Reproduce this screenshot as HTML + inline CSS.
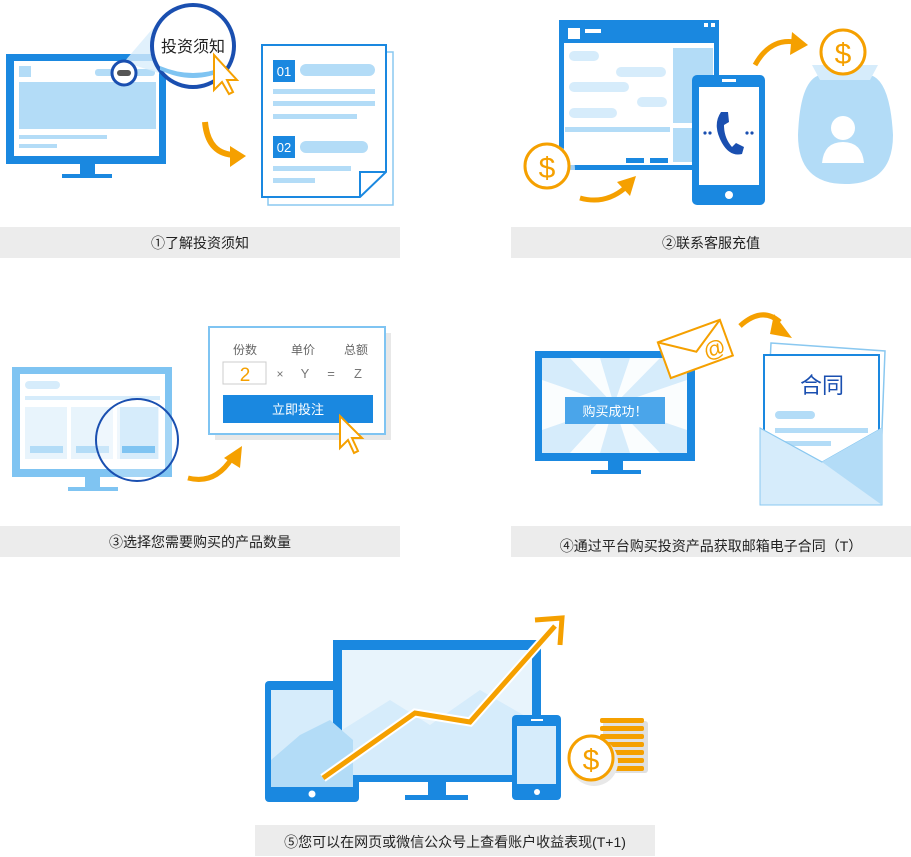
<!DOCTYPE html>
<html><head><meta charset="utf-8"><style>
html,body{margin:0;padding:0;background:#fff;width:911px;height:857px;overflow:hidden}
svg{display:block}
text{font-family:"Liberation Sans","Noto Sans CJK SC",sans-serif}
</style></head><body>
<svg width="911" height="857" viewBox="0 0 911 857" xmlns="http://www.w3.org/2000/svg">
<defs>
<marker id="ah" markerWidth="6" markerHeight="6" refX="3" refY="3" orient="auto"><path d="M0,0L6,3L0,6z" fill="#f5a000"/></marker>
</defs>
<!-- captions -->
<rect x="0" y="227" width="400" height="31" fill="#ececec"/>
<text x="200" y="248" font-size="14" text-anchor="middle" fill="#222">①了解投资须知</text>
<rect x="511" y="227" width="400" height="31" fill="#ececec"/>
<text x="711" y="248" font-size="14" text-anchor="middle" fill="#222">②联系客服充值</text>
<rect x="0" y="526" width="400" height="31" fill="#ececec"/>
<text x="200" y="547" font-size="14" text-anchor="middle" fill="#222">③选择您需要购买的产品数量</text>
<rect x="511" y="526" width="400" height="31" fill="#ececec"/>
<text x="711" y="551" font-size="14" text-anchor="middle" fill="#222">④通过平台购买投资产品获取邮箱电子合同（T）</text>
<rect x="255" y="825" width="400" height="31" fill="#ececec"/>
<text x="455" y="847" font-size="14" text-anchor="middle" fill="#222">⑤您可以在网页或微信公众号上查看账户收益表现(T+1)</text>

<!-- PANEL 1 -->
<rect x="6" y="54" width="160" height="110" fill="#1a88e0"/>
<rect x="14" y="61" width="145" height="95" fill="#fff"/>
<rect x="19" y="66" width="12" height="11" fill="#b3dcf7"/>
<rect x="95" y="69" width="60" height="7" rx="3" fill="#b3dcf7"/>
<rect x="19" y="82" width="137" height="47" fill="#b3dcf7"/>
<rect x="19" y="135" width="88" height="4" fill="#b3dcf7"/>
<rect x="19" y="144" width="38" height="4" fill="#b3dcf7"/>
<rect x="80" y="164" width="15" height="11" fill="#1a88e0"/>
<rect x="62" y="174" width="50" height="4" fill="#1a88e0"/>
<path d="M124,62 L160,20 L200,86 Z" fill="#d9eefb" opacity="0.8"/>
<circle cx="124" cy="73" r="12" fill="#fff" stroke="#1a4fb0" stroke-width="3"/>
<rect x="117" y="70" width="14" height="6" rx="3" fill="#555"/>
<circle cx="193" cy="46" r="41" fill="#fff" stroke="#1a4fb0" stroke-width="4"/>
<path d="M160,70 Q193,86 226,70 L226,66 Q193,80 160,66Z" fill="#7fc4f2"/>
<text x="193" y="52" font-size="16" text-anchor="middle" fill="#222">投资须知</text>
<path d="M214,55 L214,90 L222,82 L229,94 L233,92 L227,80 L237,80 Z" fill="#fff" stroke="#f5a000" stroke-width="2"/>
<path d="M205,122 Q208,155 236,155" fill="none" stroke="#f5a000" stroke-width="6"/>
<path d="M230,146 L246,156 L230,167 Z" fill="#f5a000"/>
<rect x="268" y="52" width="125" height="153" fill="#fff" stroke="#8ac8f0" stroke-width="1.5"/>
<path d="M262,45 L386,45 L386,172 L360,197 L262,197 Z" fill="#fff" stroke="#1a88e0" stroke-width="2"/>
<path d="M386,172 L360,172 L360,197" fill="none" stroke="#1a88e0" stroke-width="2"/>
<rect x="273" y="60" width="22" height="22" fill="#1a88e0"/><text x="284" y="76" font-size="13" fill="#fff" text-anchor="middle">01</text>
<rect x="300" y="64" width="75" height="12" rx="6" fill="#b3dcf7"/>
<rect x="273" y="89" width="102" height="5" fill="#b3dcf7"/>
<rect x="273" y="101" width="102" height="5" fill="#b3dcf7"/>
<rect x="273" y="114" width="84" height="5" fill="#b3dcf7"/>
<rect x="273" y="136" width="22" height="22" fill="#1a88e0"/><text x="284" y="152" font-size="13" fill="#fff" text-anchor="middle">02</text>
<rect x="300" y="141" width="68" height="12" rx="6" fill="#b3dcf7"/>
<rect x="273" y="166" width="78" height="5" fill="#b3dcf7"/>
<rect x="273" y="178" width="42" height="5" fill="#b3dcf7"/>

<!-- PANEL 2 -->
<rect x="559" y="20" width="160" height="150" fill="#1a88e0"/>
<rect x="564" y="43" width="150" height="122" fill="#fff"/>
<rect x="568" y="28" width="12" height="11" fill="#fff"/>
<rect x="585" y="29" width="16" height="4" fill="#fff"/>
<rect x="704" y="23" width="4" height="4" fill="#fff"/><rect x="711" y="23" width="4" height="4" fill="#fff"/>
<rect x="569" y="51" width="30" height="10" rx="5" fill="#d6ecfb"/>
<rect x="616" y="67" width="50" height="10" rx="5" fill="#d6ecfb"/>
<rect x="569" y="82" width="60" height="10" rx="5" fill="#d6ecfb"/>
<rect x="637" y="97" width="30" height="10" rx="5" fill="#d6ecfb"/>
<rect x="569" y="108" width="48" height="10" rx="5" fill="#d6ecfb"/>
<rect x="673" y="48" width="40" height="75" fill="#b3dcf7"/>
<rect x="673" y="128" width="40" height="34" fill="#b3dcf7"/>
<rect x="565" y="127" width="105" height="5" fill="#b3dcf7"/>
<rect x="626" y="158" width="18" height="5" fill="#1a88e0"/><rect x="650" y="158" width="18" height="5" fill="#1a88e0"/>
<rect x="692" y="75" width="73" height="130" rx="5" fill="#1a88e0"/>
<rect x="699" y="87" width="60" height="98" fill="#fff"/>
<rect x="722" y="79" width="14" height="3" fill="#fff"/>
<circle cx="729" cy="195" r="4" fill="#fff"/>
<path d="M721,112 Q712,125 722,143 Q730,157 742,154 L744,147 L736,143 L732,147 Q724,138 724,125 L729,122 L728,112 Z" fill="#1a4fb0"/>
<circle cx="705" cy="133" r="1.6" fill="#1a4fb0"/><circle cx="710" cy="133" r="1.6" fill="#1a4fb0"/>
<circle cx="747" cy="133" r="1.6" fill="#1a4fb0"/><circle cx="752" cy="133" r="1.6" fill="#1a4fb0"/>
<circle cx="551" cy="169" r="24" fill="#fff" opacity="0.6"/>
<circle cx="547" cy="166" r="22" fill="#fff" stroke="#f5a000" stroke-width="3"/>
<text x="547" y="178" font-size="30" fill="#f5a000" text-anchor="middle">$</text>
<path d="M580,198 Q605,205 625,188" fill="none" stroke="#f5a000" stroke-width="5"/>
<path d="M617,182 L636,176 L630,196 Z" fill="#f5a000"/>
<path d="M755,65 Q770,38 795,42" fill="none" stroke="#f5a000" stroke-width="5"/>
<path d="M792,32 L808,45 L790,55 Z" fill="#f5a000"/>
<path d="M820,75 Q800,80 798,135 Q798,184 845,184 Q893,184 893,135 Q890,80 870,75 Z" fill="#b3dcf7"/>
<path d="M812,65 L878,65 L870,80 L820,80 Z" fill="#d6ecfb"/>
<circle cx="843" cy="128" r="12" fill="#fff"/>
<path d="M822,163 Q824,142 843,142 Q862,142 864,163 Z" fill="#fff"/>
<circle cx="843" cy="52" r="22" fill="#fff" stroke="#f5a000" stroke-width="3"/>
<text x="843" y="64" font-size="30" fill="#f5a000" text-anchor="middle">$</text>

<!-- PANEL 3 -->
<rect x="12" y="367" width="160" height="110" fill="#7fc4f2"/>
<rect x="20" y="374" width="145" height="95" fill="#fff"/>
<rect x="25" y="381" width="35" height="8" rx="4" fill="#d6ecfb"/>
<rect x="25" y="396" width="135" height="4" fill="#d6ecfb"/>
<rect x="25" y="407" width="42" height="52" fill="#e8f4fc"/>
<rect x="71" y="407" width="42" height="52" fill="#e8f4fc"/>
<rect x="117" y="407" width="42" height="52" fill="#e8f4fc"/>
<rect x="30" y="446" width="33" height="7" fill="#b3dcf7"/><rect x="76" y="446" width="33" height="7" fill="#b3dcf7"/>
<rect x="85" y="477" width="15" height="10" fill="#7fc4f2"/>
<rect x="68" y="487" width="50" height="4" fill="#7fc4f2"/>
<circle cx="137" cy="440" r="41" fill="#fff" fill-opacity="0.3" stroke="#1a4fb0" stroke-width="2"/>
<rect x="120" y="407" width="38" height="52" fill="#d6ecfb"/>
<rect x="122" y="446" width="33" height="7" fill="#7fc4f2"/>
<path d="M188,478 Q215,485 232,458" fill="none" stroke="#f5a000" stroke-width="5"/>
<path d="M224,458 L242,446 L240,468 Z" fill="#f5a000"/>
<rect x="215" y="333" width="176" height="107" fill="#e8e8e8"/>
<rect x="209" y="327" width="176" height="107" fill="#fff" stroke="#7fc4f2" stroke-width="2"/>
<text x="245" y="354" font-size="12" fill="#666" text-anchor="middle">份数</text>
<text x="303" y="354" font-size="12" fill="#666" text-anchor="middle">单价</text>
<text x="356" y="354" font-size="12" fill="#666" text-anchor="middle">总额</text>
<rect x="223" y="362" width="43" height="22" fill="#fff" stroke="#ccc"/>
<text x="245" y="381" font-size="19" fill="#f5a000" text-anchor="middle">2</text>
<text x="280" y="378" font-size="12" fill="#777" text-anchor="middle">×</text>
<text x="305" y="378" font-size="13" fill="#777" text-anchor="middle">Y</text>
<text x="331" y="378" font-size="13" fill="#777" text-anchor="middle">=</text>
<text x="358" y="378" font-size="13" fill="#777" text-anchor="middle">Z</text>
<rect x="223" y="395" width="150" height="28" fill="#1a88e0"/>
<text x="298" y="414" font-size="13" fill="#fff" text-anchor="middle">立即投注</text>
<path d="M340,416 L340,448 L348,440 L354,453 L358,451 L352,438 L362,438 Z" fill="#fff" stroke="#f5a000" stroke-width="2"/>

<!-- PANEL 4 -->
<rect x="535" y="351" width="160" height="110" fill="#1a88e0"/>
<rect x="542" y="358" width="145" height="95" fill="#d6ecfb"/>
<g fill="#fff" opacity="0.9">
<path d="M614,405 L542,380 L542,430Z"/><path d="M614,405 L687,380 L687,430Z"/>
<path d="M614,405 L570,358 L600,358Z"/><path d="M614,405 L630,358 L660,358Z"/>
<path d="M614,405 L570,453 L600,453Z"/><path d="M614,405 L630,453 L660,453Z"/>
</g>
<rect x="565" y="397" width="100" height="27" fill="#4aa5ea"/>
<text x="615" y="416" font-size="13" fill="#fff" text-anchor="middle">购买成功！</text>
<rect x="608" y="461" width="15" height="10" fill="#1a88e0"/>
<rect x="591" y="470" width="50" height="4" fill="#1a88e0"/>
<g transform="rotate(-20 695 348)">
<rect x="662" y="330" width="66" height="38" fill="#fff" stroke="#f5a000" stroke-width="2"/>
<path d="M662,330 L695,352 L728,330" fill="none" stroke="#f5a000" stroke-width="2"/>
<text x="713" y="363" font-size="22" fill="#f5a000" text-anchor="middle">@</text>
</g>
<path d="M740,326 Q762,306 780,322" fill="none" stroke="#f5a000" stroke-width="5"/>
<path d="M774,314 L792,338 L770,334 Z" fill="#f5a000"/>
<path d="M771,343 L885,351 L880,480 L765,470 Z" fill="#fff" stroke="#8ac8f0" stroke-width="1.5"/>
<rect x="764" y="355" width="115" height="120" fill="#fff" stroke="#1a88e0" stroke-width="2"/>
<text x="822" y="393" font-size="22" fill="#1a4fb0" text-anchor="middle">合同</text>
<rect x="775" y="411" width="40" height="8" rx="4" fill="#b3dcf7"/>
<rect x="775" y="428" width="93" height="5" fill="#b3dcf7"/>
<rect x="775" y="441" width="56" height="5" fill="#b3dcf7"/>
<path d="M760,428 L822,462 L882,428 L882,505 L760,505 Z" fill="#d6ecfb" stroke="#8ac8f0"/>
<path d="M760,428 L822,462 L882,428" fill="none" stroke="#8ac8f0"/>
<path d="M822,462 L882,505 L882,428Z" fill="#b3dcf7"/>

<!-- PANEL 5 -->
<rect x="265" y="681" width="94" height="121" rx="4" fill="#1a88e0"/>
<rect x="271" y="690" width="82" height="97" fill="#d6ecfb"/>
<circle cx="312" cy="794" r="3.5" fill="#fff"/>
<rect x="333" y="640" width="208" height="142" fill="#1a88e0"/>
<rect x="342" y="650" width="190" height="125" fill="#e8f4fc"/>
<path d="M342,775 L342,730 L390,700 L430,725 L480,690 L532,720 L532,775Z" fill="#d6ecfb"/>
<path d="M271,787 L271,760 L300,735 L330,720 L353,740 L353,787Z" fill="#b3dcf7"/>
<rect x="428" y="782" width="18" height="14" fill="#1a88e0"/>
<rect x="405" y="795" width="63" height="5" fill="#1a88e0"/>
<rect x="512" y="715" width="49" height="85" rx="4" fill="#1a88e0"/>
<rect x="517" y="726" width="39" height="58" fill="#d6ecfb"/>
<rect x="531" y="719" width="12" height="2" fill="#fff"/>
<circle cx="537" cy="792" r="3" fill="#fff"/>
<path d="M323,778 L415,713 L470,722 L555,626" fill="none" stroke="#fff" stroke-width="9"/>
<path d="M323,778 L415,713 L470,722 L555,626" fill="none" stroke="#f5a000" stroke-width="5"/>
<path d="M535,620 L562,618 L560,645" fill="none" stroke="#f5a000" stroke-width="5"/>
<g fill="#e0e0e0"><rect x="603" y="721" width="45" height="52" rx="3"/></g>
<g fill="#f5a000">
<rect x="600" y="718" width="44" height="5" rx="2"/><rect x="600" y="726" width="44" height="5" rx="2"/>
<rect x="600" y="734" width="44" height="5" rx="2"/><rect x="600" y="742" width="44" height="5" rx="2"/>
<rect x="600" y="750" width="44" height="5" rx="2"/><rect x="600" y="758" width="44" height="5" rx="2"/>
<rect x="600" y="766" width="44" height="5" rx="2"/>
</g>
<circle cx="594" cy="762" r="24" fill="#e8e8e8"/>
<circle cx="591" cy="758" r="22" fill="#fff" stroke="#f5a000" stroke-width="3"/>
<text x="591" y="770" font-size="30" fill="#f5a000" text-anchor="middle">$</text>
</svg>
</body></html>
